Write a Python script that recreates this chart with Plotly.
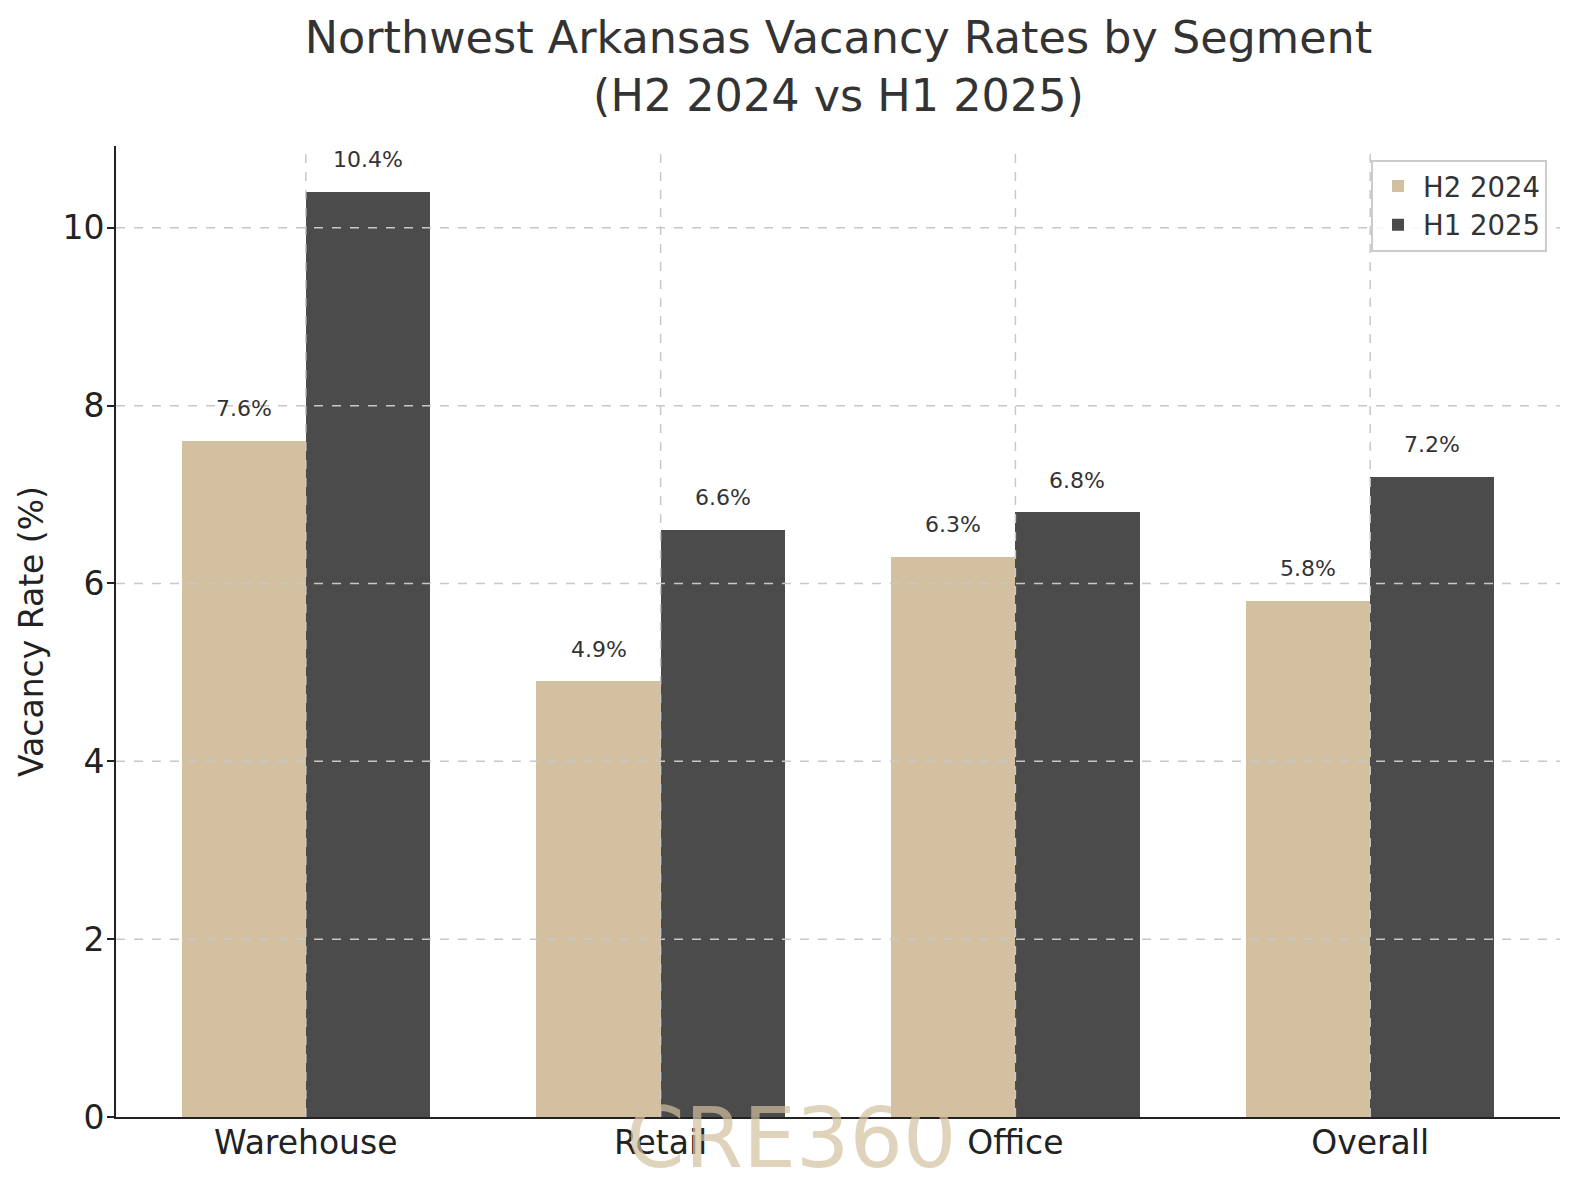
import plotly.graph_objects as go

# data
segments = ["Warehouse", "Retail", "Office", "Overall"]
h2_2024 = [7.6, 4.9, 6.3, 5.8]
h1_2025 = [10.4, 6.6, 6.8, 7.2]
y_ticks = [0, 2, 4, 6, 8, 10]

tan = "#D2C0A0"
dark = "#4B4B4B"
font = "DejaVu Sans, Noto Sans, sans-serif"
width = 0.35

idx = list(range(len(segments)))
x_h2 = [i - width / 2 for i in idx]
x_h1 = [i + width / 2 for i in idx]

fig = go.Figure()
fig.add_trace(go.Bar(x=x_h2, y=h2_2024, width=width, name="H2 2024",
                     marker=dict(color=tan, line=dict(width=0))))
fig.add_trace(go.Bar(x=x_h1, y=h1_2025, width=width, name="H1 2025",
                     marker=dict(color=dark, line=dict(width=0))))

# value labels just above each bar
for xs, vals in [(x_h2, h2_2024), (x_h1, h1_2025)]:
    for x, v in zip(xs, vals):
        fig.add_annotation(x=x, y=v + 0.2, text=f"{v:.1f}%", showarrow=False,
                           yanchor="bottom", xanchor="center",
                           font=dict(family=font, size=22, color="#333333"))

# dashed grid drawn on top of the bars like the original
grid = dict(color="#C8C8C8", width=1.5, dash="dash")
for t in y_ticks[1:]:
    fig.add_shape(type="line", xref="paper", yref="y", x0=0, x1=1, y0=t, y1=t,
                  line=grid, layer="above")
for i in idx:
    fig.add_shape(type="line", xref="x", yref="paper", x0=i, x1=i, y0=0, y1=1,
                  line=grid, layer="above")

# watermark
fig.add_annotation(xref="paper", yref="paper", x=0.4675, y=-0.022, text="CRE360",
                   showarrow=False, xanchor="center", yanchor="middle",
                   font=dict(family=font, size=84, color="rgba(210,192,160,0.7)"))

# page body keeps an 8px margin, so the figure is 16px smaller than the window
fig.update_layout(
    width=1564, height=1187,
    margin=dict(l=108, r=12, t=138, b=78, autoexpand=False),
    paper_bgcolor="white", plot_bgcolor="white",
    font=dict(family=font, color="#222222"),
    title=dict(text="Northwest Arkansas Vacancy Rates by Segment<br>(H2 2024 vs H1 2025)",
               x=0.531, xanchor="center", y=0.962, yanchor="top",
               font=dict(family=font, size=44.5, color="#333333")),
    barmode="overlay", bargap=0,
    showlegend=True,
    legend=dict(x=0.991, y=0.986, xanchor="right", yanchor="top",
                bgcolor="rgba(255,255,255,0.85)", bordercolor="#CCCCCC", borderwidth=2,
                font=dict(family=font, size=27.5, color="#333333"),
                itemwidth=40, tracegroupgap=6),
)
fig.update_xaxes(range=[-0.535, 3.535], tickmode="array", tickvals=idx, ticktext=segments,
                 showgrid=False, zeroline=False, showline=True, linecolor="#222222",
                 linewidth=2, ticks="", automargin=False, ticklabelstandoff=-5,
                 tickfont=dict(size=33, color="#222222"))
fig.update_yaxes(range=[0, 10.92], tickmode="array", tickvals=y_ticks,
                 showgrid=False, zeroline=False, showline=True, linecolor="#222222",
                 linewidth=2, ticks="outside", ticklen=7, tickwidth=2, tickcolor="#222222",
                 automargin=False, ticklabelstandoff=-4,
                 tickfont=dict(size=33, color="#222222"),
                 title=dict(text="Vacancy Rate (%)", standoff=9,
                            font=dict(size=33, color="#222222")))

fig.write_html("out.html")
